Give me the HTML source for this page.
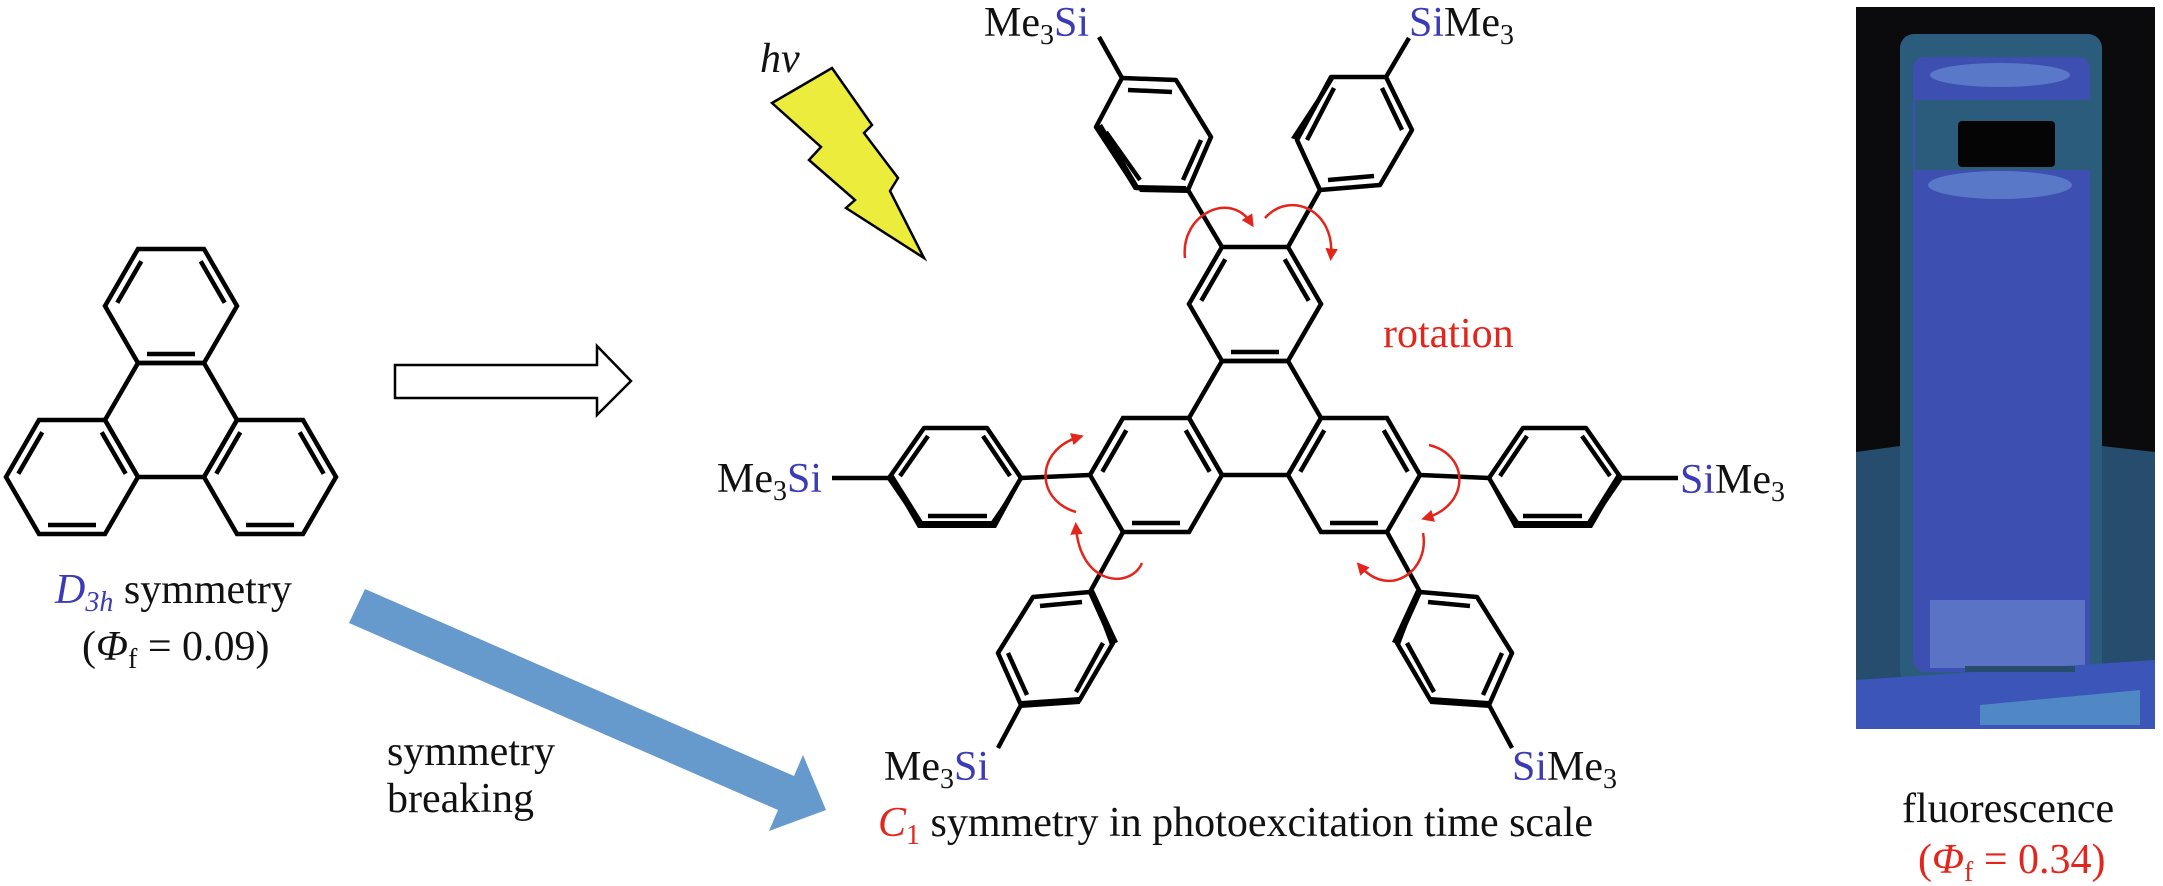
<!DOCTYPE html>
<html><head><meta charset="utf-8"><style>
html,body{margin:0;padding:0;background:#fff;}
svg{display:block;font-family:"Liberation Serif","DejaVu Serif",serif;}
svg text{font-family:"Liberation Serif","DejaVu Serif",serif;font-size:42px;fill:#111;}
svg .b{fill:#3b3bb5;}
svg .r{fill:#e3261c;}
</style></head><body>
<svg width="2163" height="886" viewBox="0 0 2163 886" xmlns="http://www.w3.org/2000/svg" font-family="Liberation Serif, DejaVu Serif, serif">
<defs>
<g id="ring" fill="none" stroke="#000" stroke-width="4.5" stroke-linejoin="miter">
<polygon points="-33,-57 33,-57 66,0 33,57 -33,57 -66,0"/>
<line x1="-53.7" y1="-3.3" x2="-29.7" y2="-44.7"/>
<line x1="53.7" y1="-3.3" x2="29.7" y2="-44.7"/>
<line x1="-24" y1="48" x2="24" y2="48"/>
</g>
<marker id="ah" viewBox="0 0 10 10" refX="6" refY="5" markerWidth="5" markerHeight="5" orient="auto">
<path d="M0,0 L10,5 L0,10 Z" fill="#e3261c"/>
</marker>
</defs>

<g fill="none" stroke="#000" stroke-width="4.5">
<polygon points="138,363 204,363 237,420 204,477 138,477 105,420"/>
</g>
<use href="#ring" x="171" y="306"/>
<use href="#ring" x="72" y="477"/>
<use href="#ring" x="270" y="477"/>

<g font-family="Liberation Serif, DejaVu Serif, serif" font-size="42">
<text x="55" y="603"><tspan class="b" font-style="italic">D</tspan><tspan class="b" font-style="italic" font-size="28" dy="8">3h</tspan><tspan dy="-8"> symmetry</tspan></text>
<text x="82" y="660">(<tspan font-style="italic">Φ</tspan><tspan font-size="28" dy="8">f</tspan><tspan dy="-8"> = 0.09)</tspan></text>
</g>

<polygon points="395,365 597,365 597,346 631,381 597,415 597,398 395,398" fill="#fff" stroke="#000" stroke-width="2.5"/>

<polygon points="365,589 794,776 803,755 826,810 769,831 778,810 349,623" fill="#6699cc"/>
<g font-family="Liberation Serif, DejaVu Serif, serif" font-size="42">
<text x="387" y="765">symmetry</text>
<text x="387" y="812">breaking</text>
<text x="760" y="72" font-style="italic">hv</text>
</g>
<polygon points="832,68 872,125 864,133 898,178 890,191 924,258 846,208 855,200 809,160 821,147 772,103" fill="#ecec3c" stroke="#000" stroke-width="2.5"/>

<g fill="none" stroke="#000" stroke-width="4.5">
<polygon points="1222,361 1288,361 1321,418 1288,475 1222,475 1189,418"/>
</g>
<use href="#ring" x="1255" y="304"/>
<use href="#ring" x="1156" y="475"/>
<use href="#ring" x="1354" y="475"/>

<g fill="none" stroke="#000" stroke-width="4.5" stroke-linejoin="round">
<line x1="1222" y1="247" x2="1188" y2="190"/>
<line x1="1288" y1="247" x2="1320" y2="190"/>
<line x1="1090" y1="475" x2="1021" y2="478"/>
<line x1="1123" y1="532" x2="1090" y2="592"/>
<line x1="1420" y1="475" x2="1489" y2="478"/>
<line x1="1387" y1="532" x2="1420" y2="592"/>
<line x1="1122" y1="78" x2="1099" y2="37"/>
<line x1="1386" y1="77" x2="1409" y2="38"/>
<line x1="889" y1="478" x2="832" y2="478"/>
<line x1="1621" y1="478" x2="1678" y2="478"/>
<line x1="1021" y1="705" x2="998" y2="748"/>
<line x1="1489" y1="705" x2="1512" y2="748"/>

<polygon points="1188,190 1136,188 1096,127 1122,78 1176,80 1211,137"/>
<line x1="1128" y1="90" x2="1172" y2="92"/>
<line x1="1106" y1="132" x2="1140" y2="180"/>
<line x1="1201" y1="140" x2="1183" y2="180"/>
<polygon points="1320,190 1380,185 1412,130 1386,77 1331,77 1297,140"/>
<line x1="1328" y1="180" x2="1374" y2="176"/>
<line x1="1402" y1="130" x2="1382" y2="88"/>
<line x1="1307" y1="140" x2="1334" y2="88"/>
<polygon points="1021,478 987,428 924,428 889,478 921,525 993,525"/>
<line x1="900" y1="476" x2="928" y2="436"/>
<line x1="1010" y1="476" x2="983" y2="436"/>
<line x1="928" y1="516" x2="987" y2="516"/>
<polygon points="1489,478 1523,428 1586,428 1621,478 1589,525 1517,525"/>
<line x1="1610" y1="476" x2="1582" y2="436"/>
<line x1="1500" y1="476" x2="1527" y2="436"/>
<line x1="1582" y1="516" x2="1523" y2="516"/>
<polygon points="1090,592 1033,597 998,653 1021,705 1079,701 1113,643"/>
<line x1="1040" y1="606" x2="1082" y2="602"/>
<line x1="1008" y1="653" x2="1027" y2="695"/>
<line x1="1103" y1="643" x2="1076" y2="692"/>
<polygon points="1420,592 1477,597 1512,653 1489,705 1431,701 1397,643"/>
<line x1="1470" y1="606" x2="1428" y2="602"/>
<line x1="1502" y1="653" x2="1483" y2="695"/>
<line x1="1407" y1="643" x2="1434" y2="692"/>
</g>
<g fill="#000">
<polygon points="1136,185 1140,192 1188,193 1186,186"/>
<polygon points="1096,127 1102,124 1140,188 1134,190"/>
<polygon points="1297,140 1291,138 1331,77 1334,79"/>
<polygon points="889,478 893,474 925,525 918,528"/>
<polygon points="918,528 921,521 995,521 996,528"/>
<polygon points="996,528 990,523 1021,478 1021,482"/>
<polygon points="1621,478 1617,474 1585,525 1592,528"/>
<polygon points="1592,528 1589,521 1515,521 1514,528"/>
<polygon points="1514,528 1520,523 1489,478 1489,482"/>
<polygon points="1090,592 1094,590 1118,642 1110,645"/>
<polygon points="1021,708 1021,701 1079,697 1080,704"/>
<polygon points="1420,592 1416,590 1392,642 1400,645"/>
<polygon points="1489,708 1489,701 1431,697 1430,704"/>
</g>

<g fill="none" stroke="#e3261c" stroke-width="2.5" marker-end="url(#ah)">
<path d="M1185,258 C1180,215 1230,190 1251,223"/>
<path d="M1265,218 C1290,190 1335,210 1331,256"/>
<path d="M1076,512 C1035,500 1035,450 1079,437"/>
<path d="M1142,563 C1130,590 1080,585 1076,527"/>
<path d="M1429,445 C1470,455 1470,505 1426,518"/>
<path d="M1423,533 C1430,570 1390,600 1360,566"/>
</g>

<g font-family="Liberation Serif, DejaVu Serif, serif" font-size="42">
<text x="1383" y="347" class="r">rotation</text>
<text x="984" y="36">Me<tspan font-size="28" dy="8">3</tspan><tspan class="b" dy="-8">Si</tspan></text>
<text x="1409" y="36"><tspan class="b">Si</tspan>Me<tspan font-size="28" dy="8">3</tspan></text>
<text x="717" y="492">Me<tspan font-size="28" dy="8">3</tspan><tspan class="b" dy="-8">Si</tspan></text>
<text x="1680" y="493"><tspan class="b">Si</tspan>Me<tspan font-size="28" dy="8">3</tspan></text>
<text x="884" y="780">Me<tspan font-size="28" dy="8">3</tspan><tspan class="b" dy="-8">Si</tspan></text>
<text x="1512" y="780"><tspan class="b">Si</tspan>Me<tspan font-size="28" dy="8">3</tspan></text>
<text x="878" y="836"><tspan class="r" font-style="italic">C</tspan><tspan class="r" font-size="28" dy="8">1</tspan><tspan dy="-8"> symmetry in photoexcitation time scale</tspan></text>
</g>

<rect x="1856" y="7" width="299" height="722" fill="#0b0b0e"/>
<path d="M1856,452 L1900,446 L1900,452 L2102,452 L2102,446 L2155,452 L2155,729 L1856,729 Z" fill="#264d6e"/>
<rect x="1900" y="34" width="202" height="650" rx="14" fill="#2c5c7c"/>
<rect x="1913" y="57" width="177" height="615" rx="12" fill="#3d4fb0"/>
<ellipse cx="2000" cy="75" rx="70" ry="12" fill="#5a78c8"/>
<rect x="1915" y="100" width="175" height="70" fill="#2c5c7c"/>
<rect x="1958" y="121" width="97" height="46" rx="4" fill="#050505"/>
<ellipse cx="2000" cy="185" rx="72" ry="14" fill="#5a78c8"/>
<path d="M1930,600 L2085,600 L2085,668 L1930,668 Z" fill="#5b73c4"/>
<path d="M1856,680 L2155,660 L2155,729 L1856,729 Z" fill="#3b55b8"/>
<rect x="1965" y="666" width="110" height="6" fill="#264d6e"/>
<path d="M1980,705 L2140,690 L2140,725 L1980,725 Z" fill="#4f88c4"/>

<g font-family="Liberation Serif, DejaVu Serif, serif" font-size="42">
<text x="1902" y="822">fluorescence</text>
<text x="1918" y="873" class="r">(<tspan font-style="italic">Φ</tspan><tspan font-size="28" dy="8">f</tspan><tspan dy="-8"> = 0.34)</tspan></text>
</g>
</svg>
</body></html>
